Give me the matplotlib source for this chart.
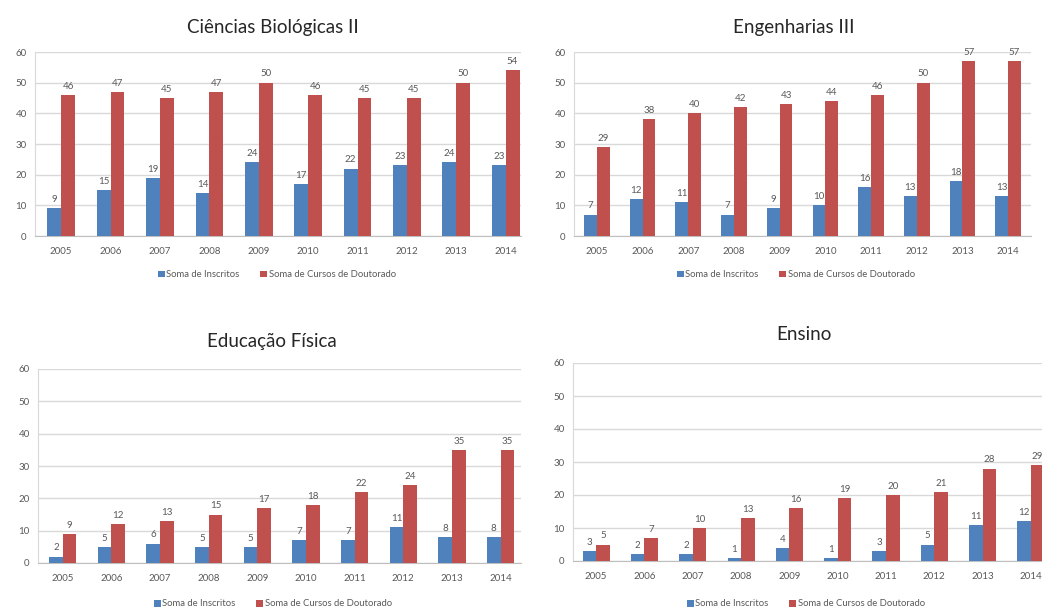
import matplotlib
matplotlib.use("Agg")
import matplotlib.pyplot as plt
import numpy as np

years = ["2005", "2006", "2007", "2008", "2009", "2010", "2011", "2012", "2013", "2014"]
series_names = ["Soma de Inscritos", "Soma de Cursos de Doutorado"]

titles = ["Ciências Biológicas II", "Engenharias III", "Educação Física", "Ensino"]

cb_inscritos = [9, 15, 19, 14, 24, 17, 22, 23, 24, 23]
cb_doutorado = [46, 47, 45, 47, 50, 46, 45, 45, 50, 54]

eng_inscritos = [7, 12, 11, 7, 9, 10, 16, 13, 18, 13]
eng_doutorado = [29, 38, 40, 42, 43, 44, 46, 50, 57, 57]

ef_inscritos = [2, 5, 6, 5, 5, 7, 7, 11, 8, 8]
ef_doutorado = [9, 12, 13, 15, 17, 18, 22, 24, 35, 35]

en_inscritos = [3, 2, 2, 1, 4, 1, 3, 5, 11, 12]
en_doutorado = [5, 7, 10, 13, 16, 19, 20, 21, 28, 29]

yticks = [0, 10, 20, 30, 40, 50, 60]

BLUE = "#4F81BD"
RED = "#C0504D"
GRID = "#D9D9D9"
TXT = "#595959"

W, H = 1042, 610
fig = plt.figure(figsize=(W / 100, H / 100), dpi=100)
plt.rcParams['font.family'] = ['Lato', 'DejaVu Sans']

# panel layout in pixels: left, right, top, bottom, xlim
panels = [
    dict(data=(cb_inscritos, cb_doutorado), box=(35, 521, 52, 236), xlim=(-0.53, 9.31),
         title_xy=(273, 27), legend_xy=(277, 275)),
    dict(data=(eng_inscritos, eng_doutorado), box=(574, 1031, 52, 236), xlim=(-0.5, 9.5),
         title_xy=(794, 27), legend_xy=(796, 275)),
    dict(data=(ef_inscritos, ef_doutorado), box=(38, 521, 369, 563), xlim=(-0.51, 9.42),
         title_xy=(272, 342), legend_xy=(273, 604)),
    dict(data=(en_inscritos, en_doutorado), box=(573, 1042, 363, 561), xlim=(-0.48, 9.23),
         title_xy=(804, 334), legend_xy=(806, 604)),
]

bw = 0.28
x = np.arange(len(years))
for p, title in zip(panels, titles):
    l, r, t, b = p["box"]
    ax = fig.add_axes([l / W, 1 - b / H, (r - l) / W, (b - t) / H])
    ins, dout = p["data"]
    b1 = ax.bar(x - bw / 2, ins, bw, color=BLUE, label=series_names[0], zorder=3)
    b2 = ax.bar(x + bw / 2, dout, bw, color=RED, label=series_names[1], zorder=3)
    for bars in (b1, b2):
        for rect in bars:
            h = rect.get_height()
            ax.annotate(f"{int(h)}", (rect.get_x() + rect.get_width() / 2, h),
                        xytext=(0, 3), textcoords="offset points", ha="center", va="bottom",
                        fontsize=7, color=TXT, zorder=4)
    ax.set_xlim(*p["xlim"])
    ax.set_ylim(0, 60)
    ax.set_yticks(yticks)
    ax.set_xticks(x)
    ax.set_xticklabels(years)
    ax.tick_params(axis="both", labelsize=7, colors=TXT, length=0, pad=6)
    ax.tick_params(axis="x", pad=8)
    ax.grid(axis="y", color=GRID, linewidth=1, zorder=0)
    for s in ("top", "right"):
        ax.spines[s].set_visible(False)
    ax.spines["left"].set_color(GRID)
    ax.spines["bottom"].set_color("#BFBFBF")
    fig.text(p["title_xy"][0] / W, 1 - p["title_xy"][1] / H, title, ha="center", va="center",
             fontsize=13.5, color="#262626")
    ax.legend(loc="center", bbox_to_anchor=(p["legend_xy"][0] / W, 1 - p["legend_xy"][1] / H),
              bbox_transform=fig.transFigure, ncol=2, frameon=False, fontsize=6.8,
              handlelength=0.7, handleheight=0.7, handletextpad=0.2, columnspacing=2.2,
              labelcolor=TXT)

fig.savefig("out.png", dpi=100)
